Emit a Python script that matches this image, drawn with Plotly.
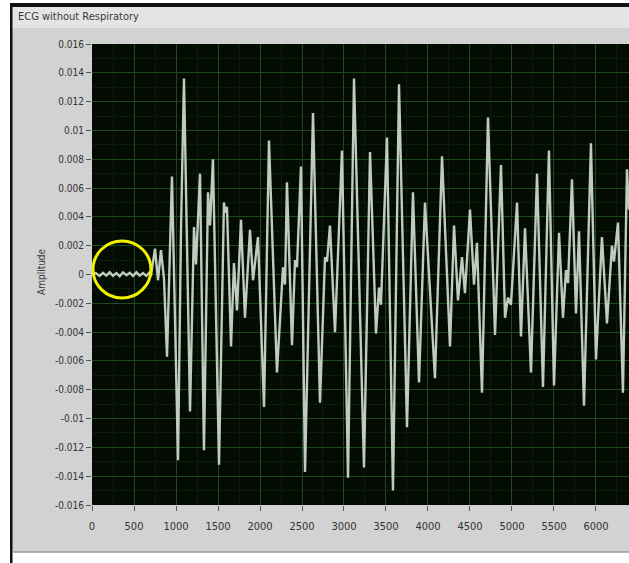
import plotly.graph_objects as go

# ---- data ----
x_samples = [0, 45, 90, 131, 170, 210, 250, 290, 330, 369, 410, 450, 488, 528, 568, 607, 647, 680, 702, 750,
             786, 821, 857, 893, 952, 1024,
             1060, 1095, 1167, 1214, 1238, 1286, 1333, 1381, 1405, 1440, 1512, 1571, 1583, 1607, 1655, 1690, 1726,
             1774, 1821, 1881, 1917, 1976, 2048, 2107, 2202, 2274, 2298, 2321, 2381, 2417, 2440, 2488, 2536, 2631,
             2714, 2774, 2798, 2833, 2893, 2976, 3048, 3119, 3238, 3310, 3381, 3417, 3440, 3512, 3583, 3655, 3750,
             3821, 3893, 3964, 4083, 4167, 4262, 4310, 4357, 4405, 4440, 4500, 4548, 4583, 4643, 4714, 4798, 4869,
             4917, 4952, 4988, 5060, 5107, 5155, 5226, 5298, 5369, 5440, 5500, 5560, 5607, 5643, 5667, 5714, 5762,
             5798, 5857, 5940, 6000, 6071, 6131, 6190, 6214, 6262, 6321, 6369, 6393]
amplitude = [0.0, 0.0001, -0.0001, 0.00012, -0.00008, 0.00015, -0.0001, 0.0001, -0.00012, 0.00015,
             -0.00005, 0.00012, -0.0001, 0.00015, -0.00008, 0.0001, -0.0001, 0.00012, -0.0001, 0.0018,
             -0.0004, 0.0017, -0.0003, -0.0057, 0.0068, -0.0129,
             0.0033, 0.0136, -0.0095, 0.0033, 0.0007, 0.0070, -0.0122, 0.0057, 0.0034, 0.0080,
             -0.0132, 0.0050, 0.0043, 0.0047, -0.0050, 0.0008, -0.0025, 0.0038, -0.0030, 0.0031,
             -0.0004, 0.0026, -0.0092, 0.0093, -0.0068, 0.0005, -0.0007, 0.0064, -0.0049, 0.0010,
             0.0005, 0.0075, -0.0137, 0.0112, -0.0089, 0.0012, 0.0009, 0.0034, -0.0040, 0.0086,
             -0.0141, 0.0136, -0.0134, 0.0085, -0.0041, -0.0009, -0.0021, 0.0095, -0.0150, 0.0132,
             -0.0106, 0.0057, -0.0075, 0.0050, -0.0072, 0.0082, -0.0050, 0.0034, -0.0018, 0.0012,
             -0.0013, 0.0045, -0.0007, 0.0022, -0.0082, 0.0109, -0.0042, 0.0076, -0.0030, -0.0016,
             -0.0021, 0.0050, -0.0043, 0.0032, -0.0068, 0.0070, -0.0078, 0.0086, -0.0077, 0.0029,
             -0.0030, 0.0003, -0.0006, 0.0066, -0.0027, 0.0030, -0.0091, 0.0091, -0.0059, 0.0026,
             -0.0034, 0.0020, 0.0009, 0.0036, -0.0082, 0.0073, 0.0045]

x_ticks = [0, 500, 1000, 1500, 2000, 2500, 3000, 3500, 4000, 4500, 5000, 5500, 6000]
x_tick_labels = [str(v) for v in x_ticks]
y_ticks = [0.016, 0.014, 0.012, 0.01, 0.008, 0.006, 0.004, 0.002, 0,
           -0.002, -0.004, -0.006, -0.008, -0.01, -0.012, -0.014, -0.016]
y_tick_labels = ["0.016", "0.014", "0.012", "0.01", "0.008", "0.006", "0.004", "0.002", "0",
                 "-0.002", "-0.004", "-0.006", "-0.008", "-0.01", "-0.012", "-0.014", "-0.016"]
chart_title = "ECG without Respiratory"
y_title = "Amplitude"

# ---- figure geometry (pixels) ----
W, H = 629, 563
L, R, T, B = 92, 0, 44, 58
PW, PH = W - L - R, H - T - B

def px(xp):
    return (xp - L) / PW

def py(yp):
    return (H - B - yp) / PH

FONT = "Liberation Sans Narrow, DejaVu Sans Condensed, Arial Narrow, sans-serif"

fig = go.Figure()
fig.add_trace(go.Scatter(
    x=x_samples, y=amplitude, mode="lines",
    line=dict(color="rgba(200,214,200,0.95)", width=2.4),
    hoverinfo="skip", showlegend=False,
))

shapes = [
    dict(type="rect", xref="paper", yref="paper", x0=px(0), x1=px(10), y0=py(H), y1=py(0),
         fillcolor="white", line_width=0, layer="above"),
    dict(type="rect", xref="paper", yref="paper", x0=px(0), x1=px(W), y0=py(3), y1=py(0),
         fillcolor="white", line_width=0, layer="above"),
    dict(type="rect", xref="paper", yref="paper", x0=px(10), x1=px(W), y0=py(H), y1=py(552),
         fillcolor="white", line_width=0, layer="above"),
    dict(type="rect", xref="paper", yref="paper", x0=px(12), x1=px(W), y0=py(28), y1=py(7),
         fillcolor="#e4e4e4", line_width=0, layer="above"),
    dict(type="rect", xref="paper", yref="paper", x0=px(10), x1=px(W), y0=py(7), y1=py(3),
         fillcolor="#111111", line_width=0, layer="above"),
    dict(type="rect", xref="paper", yref="paper", x0=px(10), x1=px(12.5), y0=py(H), y1=py(3),
         fillcolor="#111111", line_width=0, layer="above"),
    dict(type="line", xref="paper", yref="paper", x0=px(12), x1=px(W), y0=py(552), y1=py(552),
         line=dict(color="#9a9a9a", width=1.5), layer="above"),
    dict(type="circle", xref="x", yref="y", x0=12, x1=702, y0=-0.00163, y1=0.00233,
         line=dict(color="#f2f200", width=3), layer="above"),
]

annotations = [
    dict(text=chart_title, xref="paper", yref="paper", x=px(16), y=py(17), xanchor="left",
         yanchor="middle", showarrow=False, font=dict(family=FONT, size=11, color="#3a3a3a")),
    dict(text=y_title, xref="paper", yref="paper", x=px(41), y=py(272), textangle=-90,
         xanchor="center", yanchor="middle", showarrow=False,
         font=dict(family=FONT, size=10, color="#3a3a3a")),
]

fig.update_layout(
    width=W, height=H,
    margin=dict(l=L, r=R, t=T, b=B, pad=0),
    paper_bgcolor="#d2d2d2",
    plot_bgcolor="#030b03",
    shapes=shapes,
    annotations=annotations,
    showlegend=False,
    font=dict(family=FONT, size=11, color="#333333"),
)
fig.update_xaxes(
    range=[0, 6393], tickmode="array", tickvals=x_ticks, ticktext=x_tick_labels,
    ticks="outside", ticklen=5, tickcolor="#555555", ticklabelstandoff=6,
    showgrid=True, gridcolor="#1d4a1d", gridwidth=1,
    minor=dict(dtick=250, showgrid=True, gridcolor="#0a1c0a", gridwidth=1),
    zeroline=False, showline=False, tickfont=dict(family=FONT, size=11, color="#333333"),
    fixedrange=True,
)
fig.update_yaxes(
    range=[-0.016, 0.016], tickmode="array", tickvals=y_ticks, ticktext=y_tick_labels,
    ticks="outside", ticklen=5, tickcolor="#555555",
    showgrid=True, gridcolor="#1d4a1d", gridwidth=1,
    minor=dict(dtick=0.001, showgrid=True, gridcolor="#0a1c0a", gridwidth=1),
    zeroline=False, showline=False, tickfont=dict(family=FONT, size=10, color="#333333"),
    fixedrange=True,
)

fig.write_html(
    "out.html",
    config={"displayModeBar": False},
    post_script="document.body.style.margin='0';document.body.style.padding='0';",
)
